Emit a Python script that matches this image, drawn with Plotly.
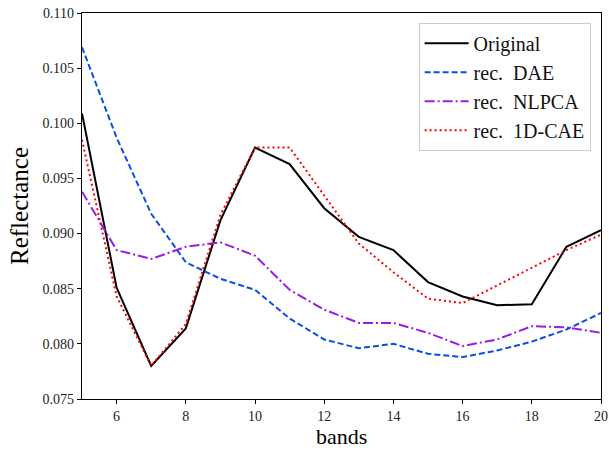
import plotly.graph_objects as go

bands = list(range(5, 21))
original = [0.1009, 0.0851, 0.0780, 0.0814, 0.0912, 0.0978, 0.0963, 0.0923,
            0.0897, 0.0885, 0.0856, 0.0843, 0.0835, 0.0836, 0.0888, 0.0903]
rec_dae = [0.1069, 0.0987, 0.0918, 0.0874, 0.0859, 0.0849, 0.0823, 0.0804,
           0.0796, 0.0800, 0.0791, 0.0788, 0.0794, 0.0802, 0.0813, 0.0828]
rec_nlpca = [0.0938, 0.0885, 0.0877, 0.0888, 0.0892, 0.0880, 0.0849, 0.0831,
             0.0819, 0.0819, 0.0810, 0.0798, 0.0804, 0.0816, 0.0815, 0.0810]
rec_cae = [0.0985, 0.0843, 0.0780, 0.0818, 0.0917, 0.0978, 0.0978, 0.0934,
           0.0891, 0.0865, 0.0841, 0.0837, 0.0853, 0.0869, 0.0885, 0.0899]

series = [
    ("Original", original, "#000000", "solid"),
    ("rec.  DAE", rec_dae, "#0b4fe3", "6px,3px"),
    ("rec.  NLPCA", rec_nlpca, "#9b1ce8", "10px,3px,2px,3px"),
    ("rec.  1D-CAE", rec_cae, "#ff0000", "2px,3px"),
]

font_family = "Liberation Serif, DejaVu Serif, serif"

fig = go.Figure()
for name, vals, color, dash in series:
    fig.add_trace(go.Scatter(
        x=bands, y=vals, mode="lines", name=name,
        line=dict(color=color, width=2, dash=dash),
    ))

axis_common = dict(
    showline=True, linecolor="black", linewidth=1.2, mirror=True,
    ticks="outside", ticklen=4, tickwidth=1.2, tickcolor="black",
    showgrid=False, zeroline=False, automargin=False,
    tickfont=dict(family=font_family, size=14, color="#222222"),
)

fig.update_layout(
    width=609, height=450,
    margin=dict(l=82, r=8, t=13, b=51),
    paper_bgcolor="white", plot_bgcolor="white",
    font=dict(family=font_family, color="black"),
    showlegend=True,
    legend=dict(
        x=0.98, y=0.975, xanchor="right", yanchor="top",
        bgcolor="rgba(255,255,255,0.85)", bordercolor="#cccccc", borderwidth=1,
        font=dict(family=font_family, size=20, color="#111111"),
        tracegroupgap=0, itemwidth=44,
    ),
    xaxis=dict(
        range=[5, 20], tickvals=[6, 8, 10, 12, 14, 16, 18, 20],
        **axis_common,
    ),
    yaxis=dict(
        range=[0.075, 0.110],
        tickvals=[0.075, 0.080, 0.085, 0.090, 0.095, 0.100, 0.105, 0.110],
        tickformat=".3f",
        title=dict(text="Reflectance", font=dict(family=font_family, size=25), standoff=6),
        **axis_common,
    ),
    annotations=[dict(
        text="bands", xref="paper", yref="paper", x=0.5, y=-0.096,
        xanchor="center", yanchor="middle", showarrow=False, borderpad=0,
        font=dict(family=font_family, size=22, color="black"),
    )],
)

fig.write_html("out.html")
